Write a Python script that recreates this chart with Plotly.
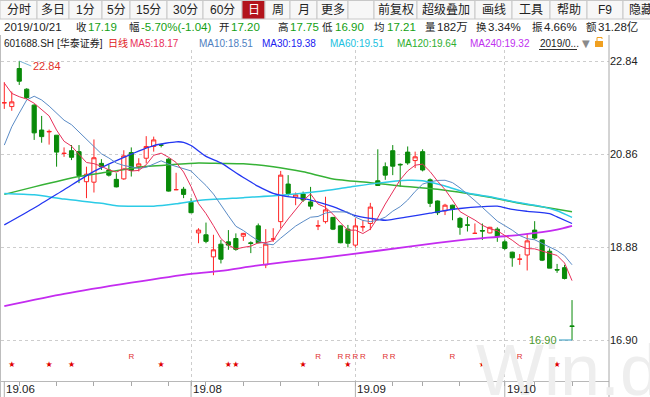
import plotly.graph_objects as go

# ---------------- data ----------------
opens = [21.95, 21.87, 22.68, 22.24, 21.90, 21.37, 21.33, 21.26, 20.87, 20.93,
         20.91, 20.27, 20.26, 20.66, 20.52, 20.32, 20.33, 20.89, 20.59, 20.77,
         21.02, 21.05, 20.75, 20.10, 20.11, 19.83, 19.18, 19.14, 18.67, 18.94,
         18.99, 19.06, 19.11, 18.97, 19.33, 18.50, 19.05, 19.42, 20.22, 19.94,
         20.01, 19.84, 19.33, 19.42, 19.51, 19.33, 19.26, 18.92, 19.31, 19.38,
         20.29, 20.59, 20.93, 20.64, 20.90, 20.72, 20.91, 20.31, 19.86, 19.65,
         19.77, 19.49, 19.35, 19.17, 19.23, 19.18, 19.26, 18.99, 18.77, 18.62,
         18.71, 19.24, 19.03, 18.79, 18.40, 18.44, 17.20]
highs = [22.39, 22.19, 22.84, 22.26, 21.92, 21.67, 21.38, 21.26, 21.00, 21.05,
         21.05, 20.59, 21.17, 20.75, 20.63, 20.45, 20.94, 21.00, 20.77, 21.24,
         21.23, 21.08, 20.77, 20.46, 20.16, 19.92, 19.28, 19.40, 19.14, 19.03,
         19.24, 19.17, 19.18, 19.00, 19.38, 19.26, 19.28, 20.50, 20.41, 20.04,
         20.06, 20.16, 19.45, 19.95, 19.52, 19.34, 19.35, 19.49, 19.45, 19.82,
         20.96, 20.68, 21.05, 20.66, 21.02, 20.91, 20.96, 20.34, 19.87, 19.80,
         19.78, 19.52, 19.52, 19.38, 19.38, 19.31, 19.30, 19.04, 18.78, 18.73,
         19.17, 19.43, 19.04, 18.85, 18.52, 18.50, 17.75]
lows = [21.82, 21.78, 22.33, 22.03, 21.16, 21.10, 21.06, 20.59, 20.80, 20.73,
        20.24, 19.92, 20.04, 20.52, 20.38, 20.15, 20.31, 20.38, 20.49, 20.66,
        20.91, 21.00, 20.06, 20.09, 19.92, 19.60, 18.96, 18.96, 18.28, 18.53,
        18.82, 18.80, 19.01, 18.75, 18.96, 18.43, 18.99, 19.28, 19.97, 19.77,
        19.84, 19.68, 19.24, 19.38, 19.24, 18.96, 18.87, 18.87, 19.21, 19.24,
        20.18, 20.31, 20.41, 20.16, 20.63, 20.56, 20.49, 19.73, 19.56, 19.56,
        19.45, 19.14, 19.21, 19.16, 19.03, 19.17, 18.99, 18.82, 18.46, 18.50,
        18.38, 19.04, 18.58, 18.43, 18.33, 18.19, 16.90]
closes = [21.951, 21.97, 22.41, 22.06, 21.31, 21.23, 21.34, 20.90, 20.875, 20.79,
          20.40, 20.43, 20.78, 20.59, 20.41, 20.16, 20.82, 20.51, 20.65, 21.02,
          21.16, 21.049, 20.07, 20.101, 20.00, 19.61, 19.24, 19.00, 18.82, 18.62,
          18.92, 18.83, 19.17, 18.955, 18.97, 18.94, 19.051, 20.41, 20.02, 19.99,
          19.88, 19.75, 19.331, 19.67, 19.26, 18.97, 18.96, 19.33, 19.311, 19.73,
          20.19, 20.41, 20.60, 20.63, 20.67, 20.80, 20.52, 19.81, 19.61, 19.77,
          19.68, 19.30, 19.345, 19.171, 19.22, 19.30, 19.10, 18.85, 18.65, 18.621,
          19.01, 19.07, 18.60, 18.43, 18.39, 18.21, 17.19]

# moving-average values before enough visible closes exist
ma5_head = [22.37, 22.15, 22.08, 22.03]
ma10_head = [21.05, 21.44, 21.73, 22.01, 22.09, 22.01, 21.88, 21.73, 21.58]

ma30_idx = [0, 4, 8, 12, 16, 20, 23, 24, 25, 27, 29, 31, 32, 34, 36, 37, 39, 41, 44,
            47, 49, 51, 54, 57, 58, 61, 64, 66, 68, 70, 73, 74, 76]
ma30_val = [19.35, 19.71, 20.10, 20.49, 20.79, 21.04, 21.12, 21.11, 21.04, 20.81, 20.67,
            20.46, 20.36, 20.17, 20.02, 19.98, 19.93, 19.88, 19.74, 19.55, 19.49, 19.45,
            19.52, 19.60, 19.63, 19.70, 19.74, 19.75, 19.68, 19.64, 19.59, 19.52, 19.38]
ma60_idx = [0, 4, 8, 13, 15, 20, 23, 26, 32, 37, 42, 46, 50, 54, 56, 59, 62, 65, 68, 72, 74, 76]
ma60_val = [20.02, 19.99, 19.90, 19.81, 19.76, 19.75, 19.80, 19.87, 19.93, 19.98, 20.06,
            20.15, 20.24, 20.30, 20.29, 20.18, 20.03, 19.95, 19.85, 19.74, 19.65, 19.51]
ma120_idx = [0, 4, 10, 14, 18, 22, 26, 29, 32, 36, 40, 44, 49, 53, 58, 62, 65, 69, 73, 76]
ma120_val = [20.00, 20.16, 20.38, 20.48, 20.58, 20.63, 20.67, 20.66, 20.65, 20.59, 20.48,
             20.33, 20.25, 20.18, 20.11, 20.02, 19.94, 19.81, 19.71, 19.63]
ma240_idx = [0, 8, 17, 25, 29, 34, 42, 50, 58, 62, 69, 74, 76]
ma240_val = [17.62, 17.88, 18.12, 18.31, 18.37, 18.49, 18.64, 18.80, 18.97, 19.04, 19.14,
             19.25, 19.33]

month_idx = [0, 25, 47, 67]
month_labels = ["19.06", "19.08", "19.09", "19.10"]
week_idx = [2, 7, 12, 17, 22, 27, 32, 37, 42, 52, 56, 61, 66, 71, 76]
star_idx = [1, 6, 9, 21, 30, 31, 40, 46, 64, 74]
r_idx = [17, 42, 45, 46, 47, 48, 51, 52, 60, 69]
price_ticks = [16.90, 18.88, 20.86, 22.84]

buttons = ["分时", "多日", "1分", "5分", "15分", "30分", "60分", "日", "周", "月", "更多", "",
           "前复权", "超级叠加", "画线", "工具", "帮助", "F9", "隐藏"]
info_items = [("2019/10/21", "k"), ("收", "k"), ("17.19", "g"), ("幅", "k"),
              ("-5.70%(-1.04)", "g"), ("开", "k"), ("17.20", "g"), ("高", "k"),
              ("17.75", "g"), ("低", "k"), ("16.90", "g"), ("均", "k"), ("17.21", "g"),
              ("量", "k"), ("182万", "k"), ("换", "k"), ("3.34%", "k"), ("振", "k"),
              ("4.66%", "k"), ("额", "k"), ("31.28亿", "k")]
legend_items = ["601688.SH", "[华泰证券]", "日线", "MA5:18.17", "MA10:18.51", "MA30:19.38",
                "MA60:19.51", "MA120:19.64", "MA240:19.32", "2019/0..."]

# ---------------- geometry / style ----------------
W, H = 650, 397
ML, MR, MT, MB = 1, 41, 50, 16
PW, PH = W - ML - MR, H - MT - MB
X0, DX = 4.3, 7.47
Y_REF, P_REF, KPX = 340, 16.90, 46.97
FONT = "Liberation Sans, Arial, Noto Sans CJK SC, sans-serif"

C_UP, C_DN = "#ff2626", "#098a09"
C_MA = {"ma5": "#e8305a", "ma10": "#5a8bc6", "ma30": "#2336f2", "ma60": "#2ccbe6",
        "ma120": "#36b236", "ma240": "#c42cf0"}
LEG_COL = ["#222222", "#222222", "#e02020", "#e8305a", "#4f7fbf", "#2020f0", "#20bfe0",
           "#2fae2f", "#c030f0", "#222222"]
LEG_X = [2, 55, 106, 128, 197, 260, 328, 395, 468, 538]
BTN_EDGES = [0, 37, 69, 102, 130, 167, 203, 242, 265, 290, 317, 348, 374, 417, 475, 512,
             550, 587, 623, 660]
INFO_X = [2, 74, 86, 127, 139, 217, 229, 276, 288, 320, 333, 372, 385, 423, 435, 474,
          486, 530, 542, 584, 596]


def px(x):
    return (x - ML) / PW


def py(y):
    return (H - MB - y) / PH


def price_at(y):
    return P_REF + (Y_REF - y) / KPX


def is_cjk(s):
    return any(ord(ch) > 0x2e80 for ch in s) and not any(ch.isdigit() for ch in s)


def moving_avg(vals, n, head):
    out = []
    for i in range(len(vals)):
        out.append(sum(vals[i - n + 1:i + 1]) / n if i >= n - 1 else head[i])
    return out


idx = list(range(len(closes)))
ma5 = moving_avg(closes, 5, ma5_head)
ma10 = moving_avg(closes, 10, ma10_head)

fig = go.Figure()
fig.add_trace(go.Candlestick(
    x=idx, open=opens, high=highs, low=lows, close=closes,
    increasing=dict(line=dict(color=C_UP, width=1), fillcolor="#ffffff"),
    decreasing=dict(line=dict(color=C_DN, width=1), fillcolor=C_DN),
    whiskerwidth=0, showlegend=False, hoverinfo="skip"))

for name, xs, ys, w, shp in [("ma240", ma240_idx, ma240_val, 1.8, "spline"),
                             ("ma120", ma120_idx, ma120_val, 1.5, "spline"),
                             ("ma60", ma60_idx, ma60_val, 1.5, "spline"),
                             ("ma30", ma30_idx, ma30_val, 1.3, "spline"),
                             ("ma10", idx, ma10, 1, "linear"),
                             ("ma5", idx, ma5, 1, "linear")]:
    fig.add_trace(go.Scatter(x=xs, y=ys, mode="lines",
                             line=dict(color=C_MA[name], width=w, shape=shp, smoothing=0.6),
                             showlegend=False, hoverinfo="skip"))

# event markers
fig.add_trace(go.Scatter(x=star_idx, y=[price_at(365)] * len(star_idx), mode="text",
                         text=["★"] * len(star_idx),
                         textfont=dict(color="#e00000", size=8, family="DejaVu Sans"),
                         showlegend=False, hoverinfo="skip"))
fig.add_trace(go.Scatter(x=r_idx, y=[price_at(357)] * len(r_idx), mode="text",
                         text=["R"] * len(r_idx),
                         textfont=dict(color="#e03030", size=8, family=FONT),
                         showlegend=False, hoverinfo="skip"))

shapes = []
ann = []

# watermark (drawn first so other texts sit on top)
ann.append(dict(text="Win.d", xref="paper", yref="paper", x=px(474), y=py(328),
                xanchor="left", yanchor="top", showarrow=False,
                font=dict(family=FONT, size=72, color="#eeeeee")))

# toolbar buttons
for i, b in enumerate(buttons):
    x1, x2 = BTN_EDGES[i], BTN_EDGES[i + 1]
    sel = (b == "日")
    shapes.append(dict(type="rect", xref="paper", yref="paper",
                       x0=px(x1), x1=px(x2), y0=py(19), y1=py(0.5),
                       fillcolor="#b3141c" if sel else "#f7f7f7",
                       line=dict(color="#c8c8c8", width=1), layer="below"))
    if b:
        cx = 641 if b == "隐藏" else (x1 + x2) / 2
        ann.append(dict(text=b, xref="paper", yref="paper", x=px(cx),
                        y=py(10), xanchor="center", yanchor="middle", showarrow=False,
                        font=dict(family=FONT, size=12, color="#ffffff" if sel else "#222222")))

# info row
for (t, c), x in zip(info_items, INFO_X):
    ann.append(dict(text=t, xref="paper", yref="paper", x=px(x), y=py(27),
                    xanchor="left", yanchor="middle", showarrow=False,
                    font=dict(family=FONT, size=10.5 if is_cjk(t) else 11.5,
                              color="#13a013" if c == "g" else "#222222")))

# legend row
for t, x, c in zip(legend_items, LEG_X, LEG_COL):
    ann.append(dict(text=t, xref="paper", yref="paper", x=px(x), y=py(43),
                    xanchor="left", yanchor="middle", showarrow=False,
                    font=dict(family=FONT, size=10, color=c)))
shapes.append(dict(type="line", xref="paper", yref="paper", x0=px(539), x1=px(577),
                   y0=py(49.5), y1=py(49.5), line=dict(color="#333333", width=1)))
ann.append(dict(text="▼", xref="paper", yref="paper", x=px(586), y=py(43), xanchor="center",
                yanchor="middle", showarrow=False,
                font=dict(family="DejaVu Sans", size=10, color="#8a8a8a")))
shapes.append(dict(type="rect", xref="paper", yref="paper", x0=px(595), x1=px(603),
                   y0=py(47), y1=py(41), fillcolor="#f0a020", line=dict(width=0)))
shapes.append(dict(type="path", xref="paper", yref="paper",
                   path=f"M {px(597)} {py(41)} L {px(597)} {py(37.5)} L {px(602)} {py(37.5)} L {px(602)} {py(39)}",
                   line=dict(color="#f0a020", width=1)))

# borders
shapes.append(dict(type="line", xref="paper", yref="paper", x0=px(609), x1=px(609),
                   y0=py(35), y1=py(397), line=dict(color="#a8a8a8", width=1)))
shapes.append(dict(type="line", xref="paper", yref="paper", x0=px(0.5), x1=px(0.5),
                   y0=py(35), y1=py(397), line=dict(color="#bdbdbd", width=1)))

# month separators in the label band + labels
for m, lab in zip(month_idx, month_labels):
    shapes.append(dict(type="line", xref="x", yref="paper", x0=m, x1=m,
                       y0=py(381), y1=py(397), line=dict(color="#b0b0b0", width=1)))
    ann.append(dict(text=lab, xref="x", yref="paper", x=m, y=py(389), xanchor="left",
                    yanchor="middle", xshift=0, showarrow=False,
                    font=dict(family=FONT, size=11.5, color="#222222")))

# high / low callouts
imax = max(idx, key=lambda i: highs[i])
imin = min(idx, key=lambda i: lows[i])
ann.append(dict(text=f"{highs[imax]:.2f}", x=imax, y=highs[imax], xref="x", yref="y",
                showarrow=True, arrowhead=0, arrowwidth=1, arrowcolor="#7ab6d8",
                ax=12, ay=5, xanchor="left", yanchor="middle",
                font=dict(family=FONT, size=11, color="#e0302a")))
ann.append(dict(text=f"{lows[imin]:.2f}", x=imin, y=lows[imin], xref="x", yref="y",
                showarrow=True, arrowhead=0, arrowwidth=1, arrowcolor="#2a98c0",
                ax=-13, ay=0, xanchor="right", yanchor="middle",
                font=dict(family=FONT, size=11, color="#4d9a2e")))

fig.update_layout(
    width=W, height=H, margin=dict(l=ML, r=MR, t=MT, b=MB),
    paper_bgcolor="#ffffff", plot_bgcolor="#ffffff",
    boxgap=0.2, showlegend=False, hovermode=False,
    shapes=shapes, annotations=ann,
    xaxis=dict(range=[(ML - X0) / DX, (ML + PW - X0) / DX], rangeslider=dict(visible=False),
               tickvals=month_idx[1:], showticklabels=False, showgrid=True,
               gridcolor="#cdcdcd", griddash="dot", gridwidth=1,
               ticks="outside", ticklen=4, tickcolor="#a8a8a8",
               showline=True, linecolor="#b8b8b8", linewidth=1, zeroline=False,
               minor=dict(tickvals=week_idx, ticks="outside", ticklen=4,
                          tickcolor="#a8a8a8", showgrid=False)),
    yaxis=dict(range=[price_at(MT + PH), price_at(MT)], side="right",
               tickvals=price_ticks, ticktext=[f"{v:.2f}" for v in price_ticks],
               showgrid=True, gridcolor="#cdcdcd", griddash="dot", gridwidth=1,
               ticks="", zeroline=False, showline=False,
               tickfont=dict(family=FONT, size=11, color="#222222")),
)

fig.write_html("out.html")
